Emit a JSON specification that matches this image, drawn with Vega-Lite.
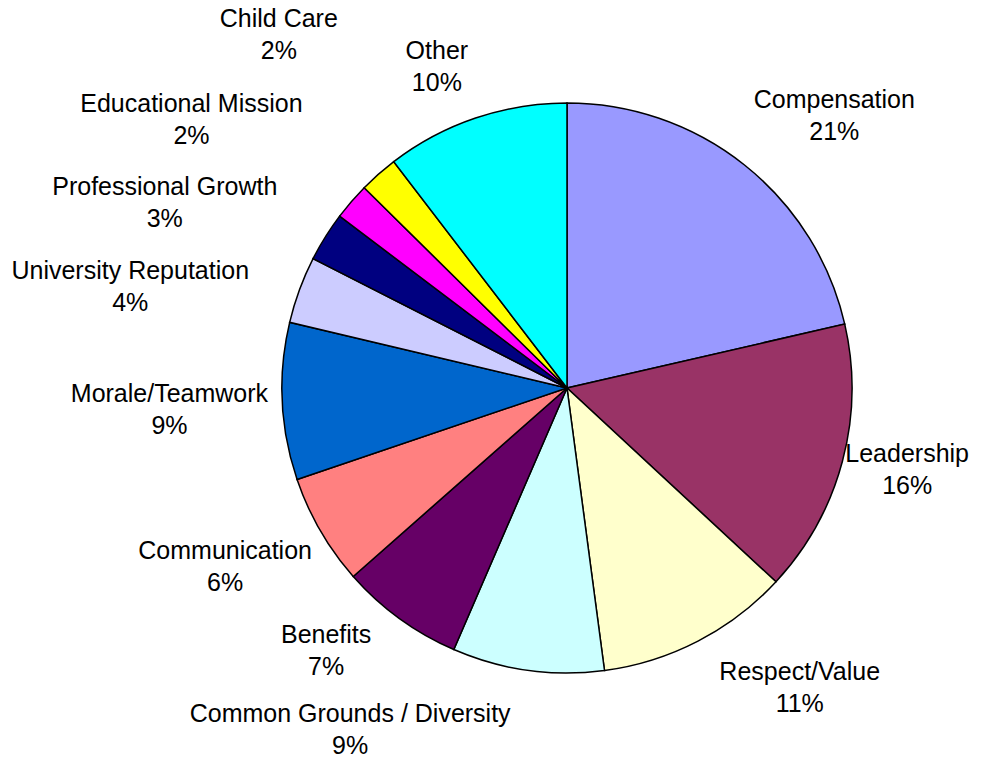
{
  "$schema": "https://vega.github.io/schema/vega-lite/v6.json",
  "width": 840,
  "height": 746,
  "autosize": "none",
  "padding": {"left": 147, "top": 15, "right": 0, "bottom": 0},
  "background": "white",
  "config": {
    "view": {"stroke": null},
    "text": {"font": "Liberation Sans", "fontSize": 25, "lineHeight": 32, "lineBreak": "\n", "align": "center", "baseline": "middle", "color": "black"}
  },
  "data": {
    "values": [
      {"order": 1, "cat": "Compensation", "value": 21.4, "label": "Compensation\n21%"},
      {"order": 2, "cat": "Leadership", "value": 15.5, "label": "Leadership\n16%"},
      {"order": 3, "cat": "Respect/Value", "value": 11.0, "label": "Respect/Value\n11%"},
      {"order": 4, "cat": "Common Grounds / Diversity", "value": 8.6, "label": "Common Grounds / Diversity\n9%"},
      {"order": 5, "cat": "Benefits", "value": 7.0, "label": "Benefits\n7%"},
      {"order": 6, "cat": "Communication", "value": 6.3, "label": "Communication\n6%"},
      {"order": 7, "cat": "Morale/Teamwork", "value": 8.9, "label": "Morale/Teamwork\n9%"},
      {"order": 8, "cat": "University Reputation", "value": 3.8, "label": "University Reputation\n4%"},
      {"order": 9, "cat": "Professional Growth", "value": 2.8, "label": "Professional Growth\n3%"},
      {"order": 10, "cat": "Educational Mission", "value": 2.1, "label": "Educational Mission\n2%"},
      {"order": 11, "cat": "Child Care", "value": 2.2, "label": "Child Care\n2%"},
      {"order": 12, "cat": "Other", "value": 10.4, "label": "Other\n10%"}
    ]
  },
  "encoding": {
    "theta": {"field": "value", "type": "quantitative", "stack": true},
    "order": {"field": "order", "type": "quantitative"}
  },
  "layer": [
    {
      "mark": {"type": "arc", "outerRadius": 285, "stroke": "black", "strokeWidth": 1.5},
      "encoding": {
        "color": {
          "field": "cat",
          "type": "nominal",
          "legend": null,
          "scale": {
            "domain": ["Compensation", "Leadership", "Respect/Value", "Common Grounds / Diversity", "Benefits", "Communication", "Morale/Teamwork", "University Reputation", "Professional Growth", "Educational Mission", "Child Care", "Other"],
            "range": ["#9999FF", "#993366", "#FFFFCC", "#CCFFFF", "#660066", "#FF8080", "#0066CC", "#CCCCFF", "#000080", "#FF00FF", "#FFFF00", "#00FFFF"]
          }
        }
      }
    },
    {"mark": {"type": "text", "radius": 365, "dx": 40, "dy": -2},
     "encoding": {"text": {"condition": {"test": "datum.cat == 'Compensation'", "field": "label"}, "value": ""}}},
    {"mark": {"type": "text", "radius": 350, "dx": 2, "dy": -24},
     "encoding": {"text": {"condition": {"test": "datum.cat == 'Leadership'", "field": "label"}, "value": ""}}},
    {"mark": {"type": "text", "radius": 365, "dx": 65, "dy": -40},
     "encoding": {"text": {"condition": {"test": "datum.cat == 'Respect/Value'", "field": "label"}, "value": ""}}},
    {"mark": {"type": "text", "radius": 340, "dx": -170, "dy": -11},
     "encoding": {"text": {"condition": {"test": "datum.cat == 'Common Grounds / Diversity'", "field": "label"}, "value": ""}}},
    {"mark": {"type": "text", "radius": 340, "dx": -41, "dy": -28},
     "encoding": {"text": {"condition": {"test": "datum.cat == 'Benefits'", "field": "label"}, "value": ""}}},
    {"mark": {"type": "text", "radius": 395, "dx": 0, "dy": -35},
     "encoding": {"text": {"condition": {"test": "datum.cat == 'Communication'", "field": "label"}, "value": ""}}},
    {"mark": {"type": "text", "radius": 400, "dx": 2, "dy": -13},
     "encoding": {"text": {"condition": {"test": "datum.cat == 'Morale/Teamwork'", "field": "label"}, "value": ""}}},
    {"mark": {"type": "text", "radius": 445, "dx": -19, "dy": 36},
     "encoding": {"text": {"condition": {"test": "datum.cat == 'University Reputation'", "field": "label"}, "value": ""}}},
    {"mark": {"type": "text", "radius": 445, "dx": -25, "dy": 35},
     "encoding": {"text": {"condition": {"test": "datum.cat == 'Professional Growth'", "field": "label"}, "value": ""}}},
    {"mark": {"type": "text", "radius": 445, "dx": -39, "dy": 7},
     "encoding": {"text": {"condition": {"test": "datum.cat == 'Educational Mission'", "field": "label"}, "value": ""}}},
    {"mark": {"type": "text", "radius": 460, "dx": 16, "dy": -24},
     "encoding": {"text": {"condition": {"test": "datum.cat == 'Child Care'", "field": "label"}, "value": ""}}},
    {"mark": {"type": "text", "radius": 340, "dx": -21, "dy": -15},
     "encoding": {"text": {"condition": {"test": "datum.cat == 'Other'", "field": "label"}, "value": ""}}}
  ]
}
